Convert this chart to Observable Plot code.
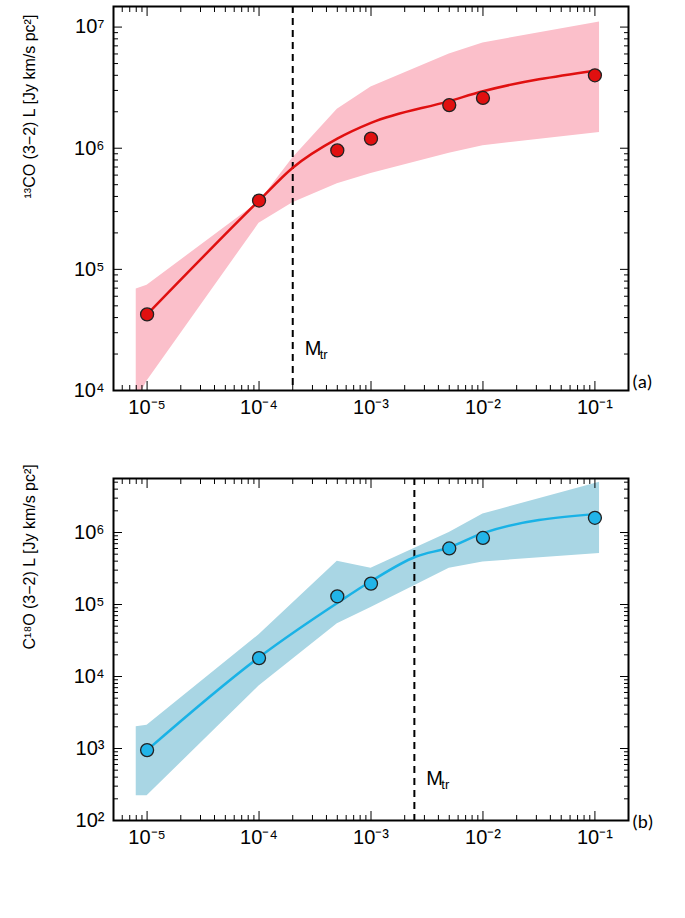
<!DOCTYPE html>
<html>
<head>
<meta charset="utf-8">
<script src="https://cdn.jsdelivr.net/npm/d3@7"></script>
<script src="https://cdn.jsdelivr.net/npm/@observablehq/plot@0.6"></script>
<style>
  body { margin: 0; background: #fff; font-family: Arial, "Liberation Sans", sans-serif; }
  #wrap { position: relative; width: 685px; }
  .tag { position: absolute; font-size: 19px; font-family: Calibri, "Open Sans", sans-serif; }
  #xlab { position: absolute; left: 0; width: 685px; top: 872px; text-align: center; padding-left: 55px; box-sizing: border-box; font-size: 20px; }
</style>
</head>
<body>
<div id="wrap">
  <div id="chart_a"></div>
  <div id="chart_b"></div>
  <div class="tag" style="left:632px; top:370px">(a)</div>
  <div class="tag" style="left:632px; top:810px">(b)</div>
  <div id="xlab">M<sub style="font-size:14px">disk</sub> [M<sub style="font-size:14px">⊙</sub>]</div>
</div>
<script>
// masses of the model disks
const masses = [1e-5, 1e-4, 5e-4, 1e-3, 5e-3, 1e-2, 1e-1]
// panel (a): 13CO luminosities
const coPoints = [4.25e4, 3.7e5, 9.6e5, 1.2e6, 2.27e6, 2.6e6, 4.0e6]
const coLineX  = [1e-5, 1e-4, 2e-4, 5e-4, 1e-3, 5e-3, 1e-2, 1e-1]
const coLineY  = [4.25e4, 3.7e5, 6.9e5, 1.2e6, 1.62e6, 2.45e6, 2.95e6, 4.37e6]
const coBandX  = [8e-6, 1e-5, 1e-4, 2e-4, 5e-4, 1e-3, 5e-3, 1e-2, 1.1e-1]
const coUpper  = [6.9e4, 7.4e4, 3.6e5, 8.3e5, 2.1e6, 3.2e6, 6.0e6, 7.4e6, 1.1e7]
const coLower  = [8e3, 1.2e4, 2.4e5, 3.55e5, 5.1e5, 6.2e5, 9.1e5, 1.05e6, 1.35e6]
const coMtr = 2e-4
// panel (b): C18O luminosities
const c18Points = [9.5e2, 1.8e4, 1.3e5, 1.95e5, 6.0e5, 8.4e5, 1.6e6]
const c18LineX  = [1e-5, 1e-4, 5e-4, 1e-3, 2.5e-3, 5e-3, 1e-2, 1e-1]
const c18LineY  = [9.5e2, 1.85e4, 1.05e5, 2.1e5, 4.6e5, 6.2e5, 9.8e5, 1.8e6]
const c18BandX  = [8e-6, 1e-5, 1e-4, 5e-4, 1e-3, 5e-3, 1e-2, 1.1e-1]
const c18Upper  = [2.0e3, 2.1e3, 3.8e4, 4.0e5, 3.2e5, 1.0e6, 1.8e6, 5.0e6]
const c18Lower  = [2.2e2, 2.2e2, 7.4e3, 5.4e4, 9.1e4, 3.2e5, 3.9e5, 5.1e5]
const c18Mtr = 2.44e-3

const sup = {"-": "⁻", "0": "⁰", "1": "¹", "2": "²", "3": "³", "4": "⁴", "5": "⁵", "6": "⁶", "7": "⁷"}
const pow10 = d => "10" + String(Math.round(Math.log10(d))).split("").map(c => sup[c]).join("")
const none = () => ""
const xMajor = [1e-5, 1e-4, 1e-3, 1e-2, 1e-1]
const minor = (lo, hi) => {
  const t = []
  for (let e = lo; e < hi; e++) for (let m = 2; m < 10; m++) t.push(m * 10 ** e)
  return t
}

function panel({points, lineX, lineY, bandX, upper, lower, mtr, yDomain, yMajor, yLo, yHi, height, marginTop, marginBottom, fillBand, stroke, dot, ylabel}) {
  const band = bandX.map((x, i) => ({x, lo: lower[i], hi: upper[i]}))
  const line = lineX.map((x, i) => ({x, y: lineY[i]}))
  const pts = masses.map((x, i) => ({x, y: points[i]}))
  const xMinor = minor(-6, -1).filter(v => v > 10 ** -5.3 && v < 10 ** -0.7)
  const yMinor = minor(yLo, yHi).filter(v => v > yDomain[0] && v < yDomain[1])
  return Plot.plot({
    width: 685, height, marginLeft: 113, marginRight: 57, marginTop, marginBottom,
    style: {fontFamily: "Arial, 'Liberation Sans', sans-serif", fontSize: "20px", color: "#000"},
    x: {type: "log", domain: [10 ** -5.3, 10 ** -0.7]},
    y: {type: "log", domain: yDomain},
    marks: [
      Plot.areaY(band, {x: "x", y1: "lo", y2: "hi", fill: fillBand, clip: true}),
      Plot.ruleX([mtr], {stroke: "#000", strokeWidth: 2, strokeDasharray: "7,5"}),
      Plot.text([mtr], {x: d => d, y: yDomain[0], dx: 12, dy: -42, text: () => "M", textAnchor: "start", fontSize: 20}),
      Plot.text([mtr], {x: d => d, y: yDomain[0], dx: 27, dy: -36, text: () => "tr", textAnchor: "start", fontSize: 13}),
      Plot.line(line, {x: "x", y: "y", stroke, strokeWidth: 2.5, curve: "monotone-x"}),
      Plot.dot(pts, {x: "x", y: "y", r: 6.5, fill: dot, stroke: "#222", strokeWidth: 1.3}),
      Plot.frame({stroke: "#000", strokeWidth: 2}),
      Plot.axisX({anchor: "bottom", ticks: xMajor, tickSize: -9, tickPadding: 18, tickFormat: pow10, label: null}),
      Plot.axisX({anchor: "bottom", ticks: xMinor, tickSize: -5, tickFormat: none, label: null}),
      Plot.axisX({anchor: "top", ticks: xMajor, tickSize: -9, tickFormat: none, label: null}),
      Plot.axisX({anchor: "top", ticks: xMinor, tickSize: -5, tickFormat: none, label: null}),
      Plot.axisY({anchor: "left", ticks: yMajor, tickSize: -9, tickPadding: 18, tickFormat: pow10, label: null}),
      Plot.axisY({anchor: "left", ticks: yMinor, tickSize: -5, tickFormat: none, label: null}),
      Plot.axisY({anchor: "right", ticks: yMajor, tickSize: -9, tickFormat: none, label: null}),
      Plot.axisY({anchor: "right", ticks: yMinor, tickSize: -5, tickFormat: none, label: null}),
      Plot.text([ylabel], {frameAnchor: "left", dx: -84, rotate: -90, text: d => d, fontSize: 16})
    ]
  })
}

const a = panel({
  points: coPoints, lineX: coLineX, lineY: coLineY, bandX: coBandX, upper: coUpper, lower: coLower, mtr: coMtr,
  yDomain: [1e4, 10 ** 7.17], yMajor: [1e4, 1e5, 1e6, 1e7], yLo: 4, yHi: 8,
  height: 442, marginTop: 6, marginBottom: 52, fillBand: "#fbbfca", stroke: "#e01010", dot: "#e01010",
  ylabel: "¹³CO (3−2) L [Jy km/s pc²]"
})
const b = panel({
  points: c18Points, lineX: c18LineX, lineY: c18LineY, bandX: c18BandX, upper: c18Upper, lower: c18Lower, mtr: c18Mtr,
  yDomain: [1e2, 10 ** 6.75], yMajor: [1e2, 1e3, 1e4, 1e5, 1e6], yLo: 2, yHi: 7,
  height: 430, marginTop: 36, marginBottom: 52, fillBand: "#a9d6e4", stroke: "#19b2e6", dot: "#22b4e8",
  ylabel: "C¹⁸O (3−2) L [Jy km/s pc²]"
})
d3.select("#chart_a").append(() => a)
d3.select("#chart_b").append(() => b)
</script>
</body>
</html>
